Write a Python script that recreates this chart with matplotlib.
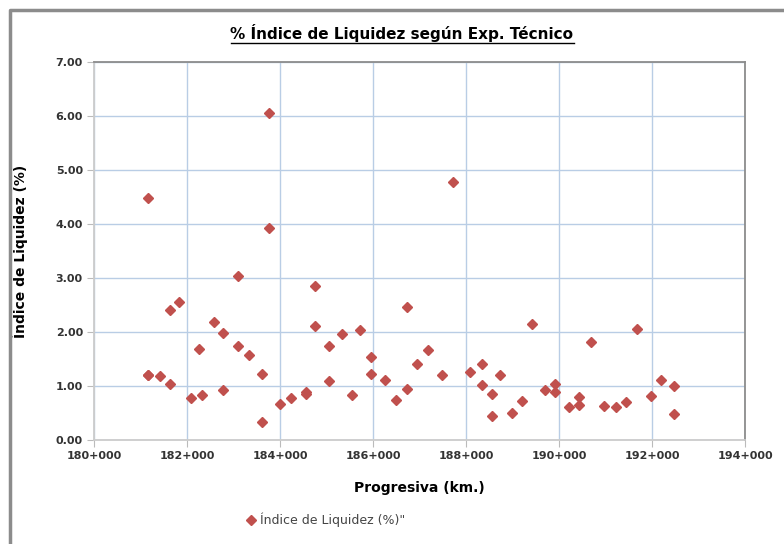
import matplotlib.pyplot as plt
from matplotlib.lines import Line2D
from matplotlib.ticker import FuncFormatter, MultipleLocator

# progresiva in km (offset from 180+000), indice de liquidez in %
prog_km = [1.168, 1.168, 1.168, 1.419, 1.634, 1.634, 1.828, 2.092, 2.265, 2.329,
           2.581, 2.774, 2.774, 3.103, 3.103, 3.327, 3.613, 3.613, 3.770, 3.770,
           4.006, 4.243, 4.559, 4.559, 4.753, 4.753, 5.047, 5.047, 5.333, 5.555,
           5.727, 5.963, 5.963, 6.265, 6.501, 6.725, 6.725, 6.946, 7.189, 7.484,
           7.720, 8.080, 8.338, 8.338, 8.566, 8.566, 8.731, 8.983, 9.204, 9.419,
           9.692, 9.920, 9.920, 10.209, 10.437, 10.437, 10.682, 10.968, 11.232, 11.447,
           11.684, 11.978, 12.187, 12.473, 12.473]
liquidez = [4.49, 1.20, 1.20, 1.18, 2.40, 1.04, 2.55, 0.78, 1.69, 0.83,
            2.18, 1.98, 0.92, 3.04, 1.75, 1.58, 1.23, 0.33, 6.06, 3.93,
            0.67, 0.77, 0.85, 0.88, 2.86, 2.12, 1.75, 1.10, 1.97, 0.83,
            2.04, 1.54, 1.23, 1.12, 0.74, 2.47, 0.95, 1.40, 1.66, 1.20,
            4.78, 1.26, 1.40, 1.01, 0.85, 0.44, 1.20, 0.50, 0.73, 2.15,
            0.92, 1.03, 0.88, 0.62, 0.79, 0.65, 1.81, 0.63, 0.61, 0.70,
            2.06, 0.81, 1.11, 1.00, 0.48]
progresiva = [180000 + k * 1000 for k in prog_km]

title = "% Índice de Liquidez según Exp. Técnico"
series_name = 'Índice de Liquidez (%)"'
red = "#C0504D"

fig = plt.figure(figsize=(7.84, 5.44), dpi=100)
ax = fig.add_axes([94 / 784, 1 - 440 / 544, 651 / 784, 378 / 544])

ax.plot(progresiva, liquidez, linestyle="none", marker="D", markersize=5.5,
        color=red, markeredgecolor=red)

ax.set_xlim(180000, 194000)
ax.set_ylim(0, 7)
ax.xaxis.set_major_locator(MultipleLocator(2000))
ax.yaxis.set_major_locator(MultipleLocator(1))
ax.xaxis.set_major_formatter(FuncFormatter(lambda v, p: f"{int(v) // 1000}+{int(v) % 1000:03d}"))
ax.yaxis.set_major_formatter(FuncFormatter(lambda v, p: f"{v:.2f}"))
ax.grid(True, color="#B9CDE5", linewidth=1)
ax.set_axisbelow(True)
ax.spines["left"].set_color("#CCCCCC")
ax.spines["bottom"].set_color("#CCCCCC")
ax.spines["top"].set_color("#8C8C8C")
ax.spines["right"].set_color("#8C8C8C")
for s in ax.spines.values():
    s.set_linewidth(1.3)
ax.tick_params(length=5, color="#BBBBBB", labelsize=8, pad=3, labelcolor="#333333")
for lbl in ax.get_xticklabels() + ax.get_yticklabels():
    lbl.set_fontweight("semibold")

ax.set_xlabel("Progresiva (km.)", fontsize=10, fontweight="bold", labelpad=14)
ax.set_ylabel("Índice de Liquidez (%)", fontsize=10, fontweight="bold", labelpad=20)

# title with underline
t = fig.text(402 / 784, 1 - 33 / 544, title, ha="center", va="center",
             fontsize=11, fontweight="bold")
fig.canvas.draw()
bb = t.get_window_extent().transformed(fig.transFigure.inverted())
fig.add_artist(Line2D([bb.x0, bb.x1], [bb.y0 - 0.002, bb.y0 - 0.002],
                      transform=fig.transFigure, color="black", linewidth=1))

# legend
leg = ax.legend([Line2D([], [], linestyle="none", marker="D", markersize=5, color=red)],
                [series_name], loc="center left", bbox_to_anchor=(232 / 784, 1 - 520 / 544),
                bbox_transform=fig.transFigure, frameon=False, fontsize=9,
                handletextpad=0.1, handlelength=1.2)
for txt in leg.get_texts():
    txt.set_color("#444444")

# outer chart frame: only left and top edges are visible
fig.add_artist(Line2D([10 / 784, 10 / 784, 1], [0, 1 - 10 / 544, 1 - 10 / 544],
                      transform=fig.transFigure, color="#8C8C8C", linewidth=2.5))

fig.savefig("out.png", dpi=100)
